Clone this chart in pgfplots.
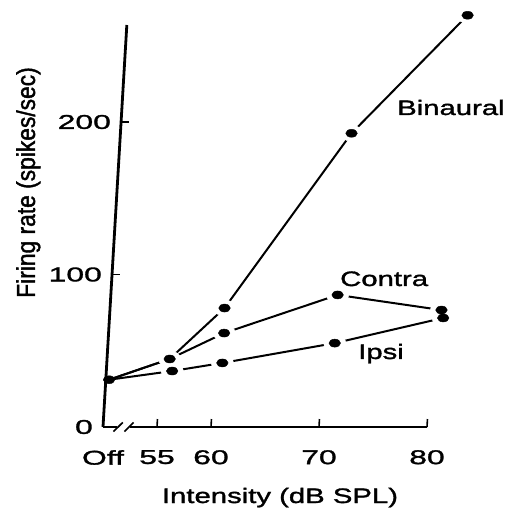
\documentclass[border=0pt]{standalone}
\usepackage{fontspec}
\setmainfont{Liberation Sans}
\newfontfamily\lblfont[FakeStretch=1.4,FakeBold=1.5]{Liberation Sans}
\newfontfamily\tickfont[FakeStretch=1.6,FakeBold=1.5]{Liberation Sans}
\newfontfamily\ylblfont[FakeStretch=0.88,FakeBold=1.5]{Liberation Sans}
\usepackage{pgfplots}
\pgfplotsset{compat=1.18}

\begin{document}
\begin{tikzpicture}
\begin{axis}[
  x={(10.8bp,0bp)}, y={(0.0904bp,1.525bp)},
  xmin=50, xmax=80, ymin=0, ymax=263.6,
  axis lines=left,
  axis line style={-},
  x axis line style={draw=none},
  y axis line style={line width=2.8bp},
  clip=false,
  tick align=inside,
  major tick length=8bp,
  tick style={line width=1.6bp, black},
  xtick={50,55,60,70,80}, xticklabels={Off,55,60,70,80},
  ytick={0,100,200},
  /pgf/number format/assume math mode=true,
  ticklabel style={font=\tickfont\fontsize{20}{20}\selectfont, inner sep=0pt},
  xticklabel style={anchor=north, yshift=-23bp},
  yticklabel style={anchor=east, xshift=-10bp},
]
% Binaural
\addplot[no marks, line width=2bp] coordinates {(50.3,31) (55.8,44.6) (60.6,78) (71.4,192.6) (81.5,270)};
% Contra
\addplot[no marks, line width=2bp] coordinates {(50.3,31) (55.8,44.6) (60.7,61.6) (71.0,86.6) (80.7,76.7)};
% Ipsi
\addplot[no marks, line width=2bp] coordinates {(50.3,31) (56.1,36.7) (60.7,42) (71.0,55) (80.9,71.5)};
% white halos
\addplot[only marks, mark=*, color=white, mark size=8bp, mark options={xscale=1.4}] coordinates {
 (55.8,44.6) (60.6,78) (71.4,192.6) (81.5,270)
 (60.7,61.6) (71.0,86.6) (80.7,76.7)
 (56.1,36.7) (60.7,42) (71.0,55) (80.9,71.5)};
% black dots
\addplot[only marks, mark=*, color=black, mark size=4bp, mark options={xscale=1.45}] coordinates {
 (50.3,31)
 (55.8,44.6) (60.6,78) (71.4,192.6) (81.5,270)
 (60.7,61.6) (71.0,86.6) (80.7,76.7)
 (56.1,36.7) (60.7,42) (71.0,55) (80.9,71.5)};
\coordinate (O) at (axis cs:50,0);
\draw[line width=2bp] (axis cs:50,0) -- (axis cs:51.3,0);
\draw[line width=1.6bp] (axis cs:51.0,-3) -- (axis cs:51.8,3);
\draw[line width=1.6bp] (axis cs:52.0,-3) -- (axis cs:52.8,3);
\draw[line width=2bp] (axis cs:52.5,0) -- (axis cs:80,0);
\end{axis}
\node[font=\lblfont\fontsize{21}{21}\selectfont, anchor=base west, inner sep=0pt] at ([shift={(294bp,312bp)}]O) {Binaural};
\node[font=\lblfont\fontsize{21}{21}\selectfont, anchor=base west, inner sep=0pt] at ([shift={(237bp,141bp)}]O) {Contra};
\node[font=\lblfont\fontsize{21}{21}\selectfont, anchor=base west, inner sep=0pt] at ([shift={(255bp,68bp)}]O) {Ipsi};
\node[font=\lblfont\fontsize{21}{21}\selectfont, anchor=base, inner sep=0pt] at ([shift={(177bp,-76bp)}]O) {Intensity (dB SPL)};
\node[font=\ylblfont\fontsize{26}{26}\selectfont, anchor=base, rotate=90, inner sep=0pt] at ([shift={(-68bp,244.5bp)}]O) {Firing rate (spikes/sec)};
\pgfresetboundingbox
\path ([shift={(-103bp,-84bp)}]O) rectangle ([shift={(406bp,427bp)}]O);
\end{tikzpicture}
\end{document}
